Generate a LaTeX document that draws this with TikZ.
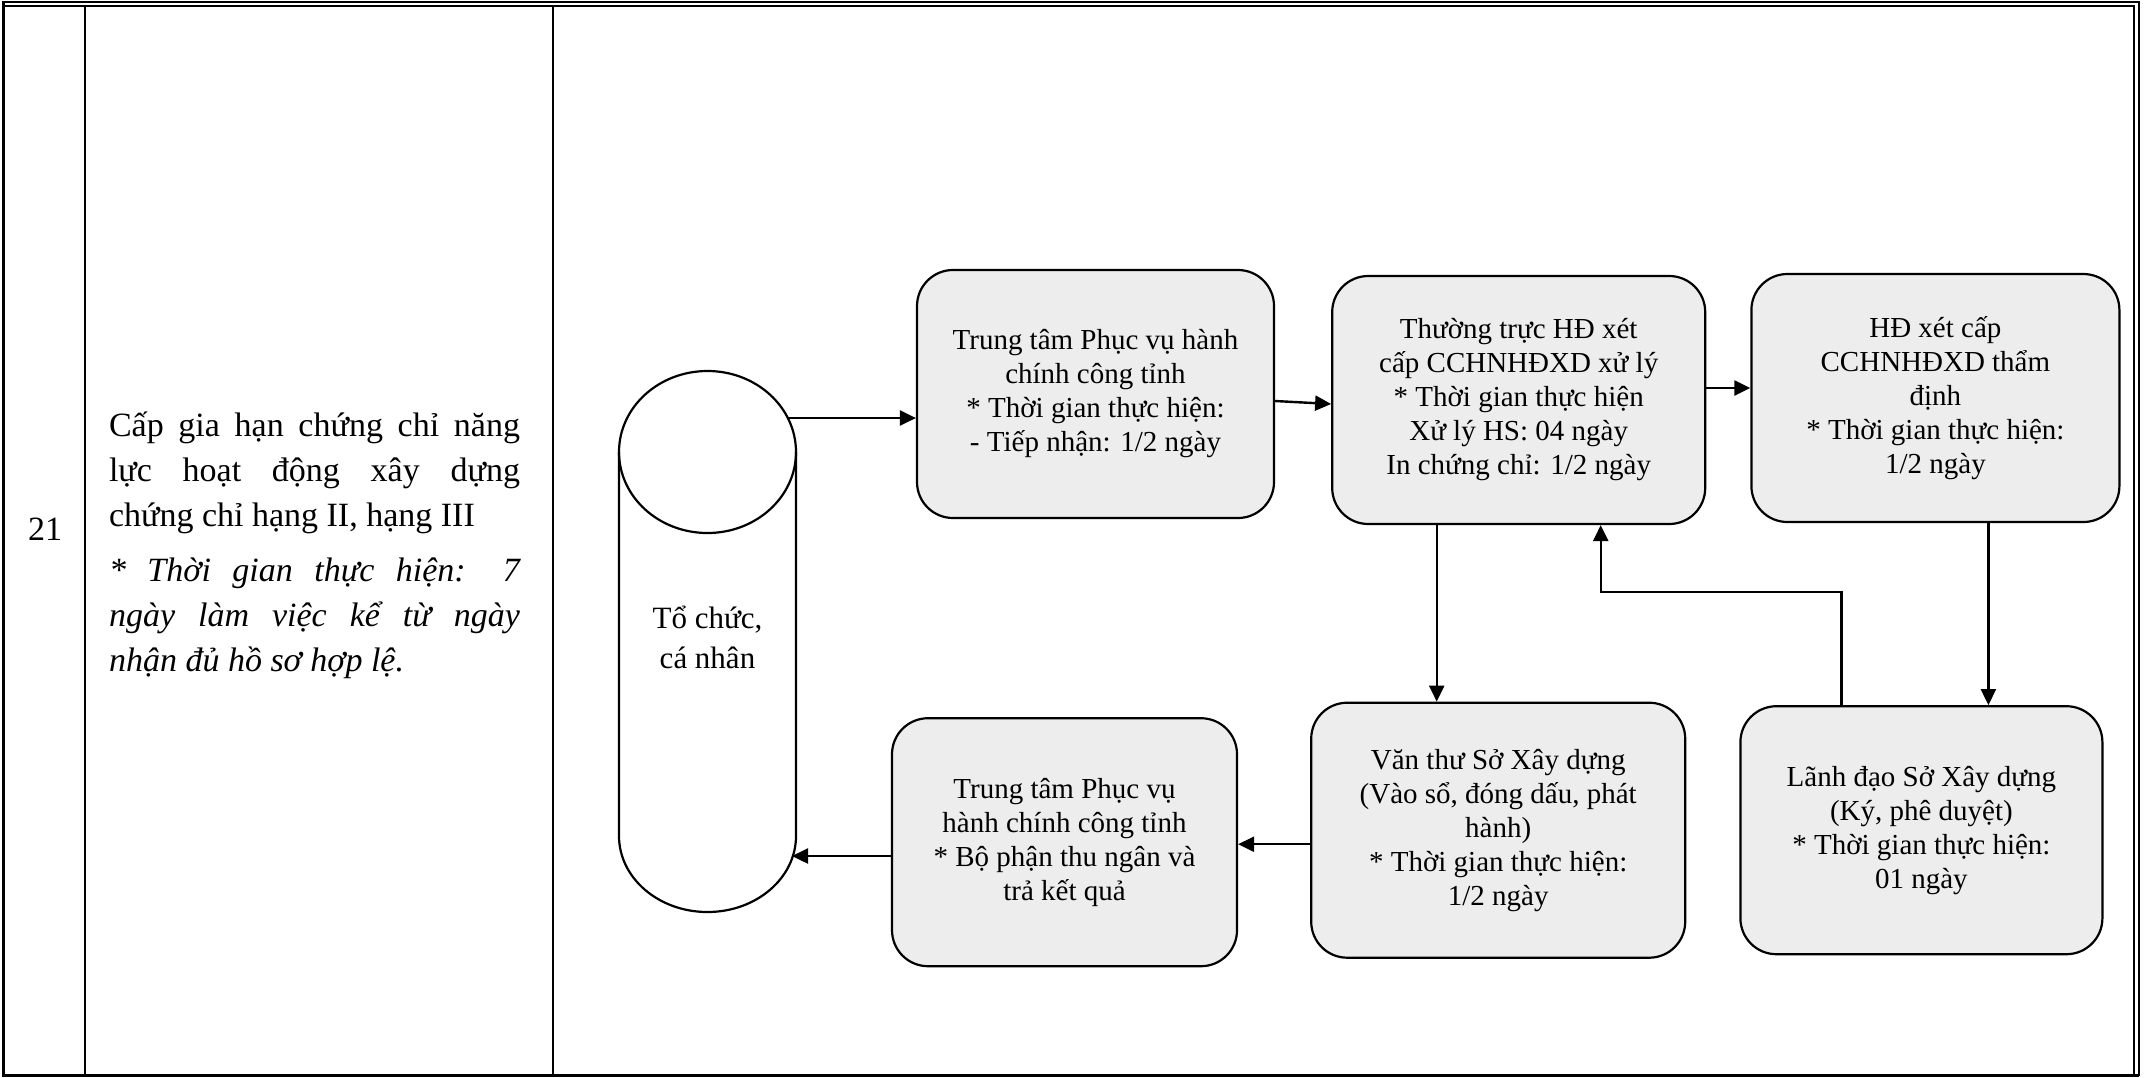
\documentclass[tikz,border=0pt]{standalone}
\usepackage{fontspec}
\setmainfont{Liberation Serif}
\usetikzlibrary{positioning,arrows.meta}
\definecolor{boxgray}{RGB}{237,237,237}

\begin{document}
\begin{tikzpicture}[
			x=0.5pt, y=-0.5pt,
			stepbox/.style = {draw, line width=1.1pt, fill=boxgray, rounded corners=18pt,
				align=center, inner sep=2pt, minimum height=124pt,
				font=\fontsize{14.5}{17}\selectfont},
			flow/.style = {-{Triangle[length=8pt,width=7.5pt]}, line width=1.2pt},
			rule/.style = {line width=1pt},
			cell/.style = {line width=0.6pt}
		]
		\useasboundingbox (0,0) rectangle (2145,1077);
		% Table frame.
		\draw[rule] (3,2) -- (2139,2) -- (2139,1075) -- (3,1075) -- cycle;
		\draw[rule] (3,6) -- (2134,6) -- (2134,1075);
		\draw[line width=1.5pt] (3,2) -- (3,1075) -- (2139,1075);
		\draw[cell] (85,6) -- (85,1075);
		\draw[cell] (553,6) -- (553,1075);

		% Row text.
		\node[font=\fontsize{17}{20}\selectfont] (num) at (45,529) {21};
		\node[text width=205.5pt, align=justify, inner sep=0pt,
			font=\fontsize{17}{22.5}\selectfont] (proc) at (314.5,545)
			{\setlength{\parindent}{0pt}Cấp gia hạn chứng chỉ năng\linebreak
			lực hoạt động xây dựng\linebreak chứng chỉ hạng II, hạng III\par
			\vspace{5pt}{\itshape * Thời gian thực hiện: 7\linebreak
			ngày làm việc kể từ ngày\linebreak nhận đủ hồ sơ hợp lệ.}\par};

		% Applicant.
		\draw[line width=1.1pt] (707.5,452) ellipse [x radius=88.5, y radius=81];
		\draw[line width=1.1pt] (619,452) -- (619,836)
			arc [start angle=180, end angle=0, x radius=88.5, y radius=76] -- (796,452);
		\node[align=center, font=\fontsize{15.5}{20}\selectfont] (actor) at (707.5,637)
			{Tổ chức,\\ cá nhân};
		\coordinate (actor-in) at (788,418);
		\coordinate (actor-out) at (792,856);

		% Top row.
		\node[stepbox, minimum width=178.5pt] (recv) at (1095.5,394)
			{Trung tâm Phục vụ hành\\ chính công tỉnh\\ * Thời gian thực hiện:\\ - Tiếp nhận: 1/2 ngày};
		\node[stepbox, minimum width=186.5pt, right=28pt of recv, yshift=-3pt] (board)
			{Thường trực HĐ xét\\ cấp CCHNHĐXD xử lý\\ * Thời gian thực hiện\\ Xử lý HS: 04 ngày\\ In chứng chỉ: 1/2 ngày};
		\node[stepbox, minimum width=184pt, right=22pt of board, yshift=1pt] (council)
			{HĐ xét cấp\\ CCHNHĐXD thẩm\\ định\\ * Thời gian thực hiện:\\ 1/2 ngày};
		% Bottom row.
		\node[stepbox, minimum width=181pt, below=91pt of council, xshift=-7pt] (leader)
			{Lãnh đạo Sở Xây dựng\\ (Ký, phê duyệt)\\ * Thời gian thực hiện:\\ 01 ngày};
		\node[stepbox, minimum width=187pt, minimum height=127.5pt, left=26.5pt of leader] (clerk)
			{Văn thư Sở Xây dựng\\ (Vào sổ, đóng dấu, phát\\ hành)\\ * Thời gian thực hiện:\\ 1/2 ngày};
		\node[stepbox, minimum width=172.5pt, left=36pt of clerk, yshift=-6pt] (ret)
			{Trung tâm Phục vụ\\ hành chính công tỉnh\\ * Bộ phận thu ngân và\\ trả kết quả};

		\draw[flow] (actor-in) -- (actor-in -| recv.west);
		\draw[flow] ([yshift=-3.5pt]recv.east) -- ([yshift=-2pt]board.west);
		\draw[flow] ([yshift=6pt]board.east) -- ([yshift=6pt]board.east -| council.west);
		\draw[flow] ([xshift=26.5pt]council.south) -- ([xshift=26.5pt]council.south |- leader.north);
		\draw[flow] ([xshift=-40pt]leader.north) -- ++(0,-113) -| ([xshift=41pt]board.south);
		\draw[flow] ([xshift=-41pt]board.south) -- ([xshift=-41pt]board.south |- clerk.north);
		\draw[flow] ([yshift=-7pt]clerk.west) -- ([yshift=-7pt]clerk.west -| ret.east);
		\draw[flow] (ret.west |- actor-out) -- (actor-out);
	\end{tikzpicture}
\end{document}
